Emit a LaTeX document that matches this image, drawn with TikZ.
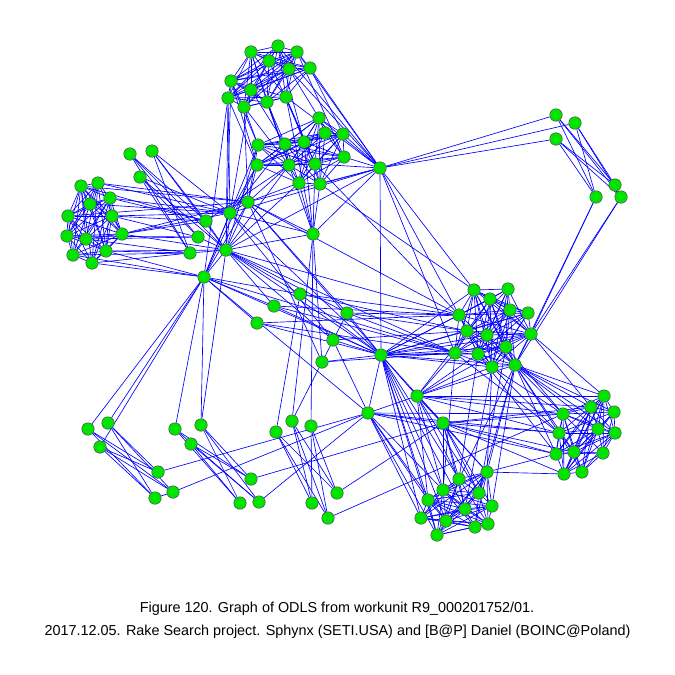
\documentclass[tikz,border=0pt]{standalone}
\usepackage{fontspec}
\setmainfont{Liberation Sans}
\pgfdeclarelayer{bg}
\pgfsetlayers{bg,main}
\definecolor{vg}{RGB}{0,228,0}
\definecolor{vb}{RGB}{0,0,255}
\tikzset{
  vtx/.style={circle,fill=vg,draw=black!70,line width=0.5pt,minimum size=12.5pt,inner sep=0pt},
  edge/.style={draw=vb,line width=0.65pt},
  captxt/.style={font=\fontsize{14.4}{17}\selectfont,inner sep=0pt}
}
\newcommand\myclique[2]{%
  \pgfmathtruncatemacro\nm{#2-1}%
  \foreach \i in {1,...,\nm}{%
    \pgfmathtruncatemacro\ip{\i+1}%
    \foreach \j in {\ip,...,#2}{%
      \pgfmathtruncatemacro\r{mod(3*\i+5*\j+\i*\j,4)}%
      \ifnum\r>0 \draw[edge] (#1\i)--(#1\j);\fi}}}
\begin{document}
\begin{tikzpicture}[x=1pt,y=-1pt]
\useasboundingbox (0,0) rectangle (675,675);
\foreach \n/\x/\y in {
 a1/251/52, a2/278/46, a3/297/52, a4/269/61, a5/289/69, a6/310/68, a7/231/81, a8/251/90, a9/228/98, a10/244/107, a11/267/102, a12/286/97,
 b1/319/118, b2/325/133, b3/343/134, b4/258/145, b5/285/144, b6/304/142, b7/344/157, b8/257/165, b9/289/165, b10/315/164, b11/299/183, b12/320/184,
 h1/380/168,
 g1/248/202, g2/230/213, g3/206/221, g4/198/237, g5/226/250, g6/190/253, g7/204/277, g8/313/234,
 c1/81/186, c2/98/183, c3/110/198, c4/90/204, c5/68/216, c6/112/216, c7/67/236, c8/86/239, c9/122/234, c10/73/255, c11/106/251, c12/92/263,
 p1/130/154, p2/152/151, p3/140/177,
 r1/556/115, r2/575/123, r3/556/139, r4/615/185, r5/596/197, r6/621/197,
 m1/300/294, m2/274/306, m3/347/313, m4/257/323, m5/333/340, m6/322/362, m7/381/355, m8/417/396, m9/368/413, m10/443/423,
 d1/474/290, d2/508/289, d3/490/299, d4/459/315, d5/510/310, d6/528/313, d7/467/331, d8/487/335, d9/531/334, d10/455/353, d11/478/354, d12/506/347, d13/492/367, d14/515/365,
 e1/604/396, e2/591/407, e3/563/414, e4/614/412, e5/598/429, e6/559/433, e7/615/433, e8/556/454, e9/574/452, e10/603/453, e11/564/474, e12/582/472,
 f1/487/472, f2/459/479, f3/443/490, f4/479/493, f5/428/500, f6/492/506, f7/465/509, f8/421/518, f9/446/521, f10/475/527, f11/488/524, f12/437/535,
 q1/88/429, q2/108/423, q3/100/447, q4/158/472, q5/173/492, q6/155/498,
 s1/175/429, s2/201/425, s3/191/444, s4/251/479, s5/240/503, s6/259/502,
 t1/276/432, t2/292/421, t3/311/426, t4/337/493, t5/312/503, t6/328/518}
 \node[vtx] (\n) at (\x,\y) {};
\begin{pgfonlayer}{bg}
\myclique{a}{12}
\myclique{b}{12}
\myclique{c}{12}
\myclique{d}{14}
\myclique{e}{12}
\myclique{f}{12}
\foreach \u/\v in {
 a7/b4, a7/b8, a9/b8, a10/b4, a11/b5, a11/b9, a12/b6, a8/b5, a5/b1, a6/b3, a4/b10, a1/b9, a2/b6, a3/b7, a12/b10, a10/b9,
 a3/h1, a6/h1, a5/h1, a2/h1, a12/h1,
 a7/g5, a9/g5, a9/g7, a10/g1, a8/g2, a11/g8, a12/g8, a9/g2,
 b1/h1, b3/h1, b7/h1, b10/h1, b12/h1, b4/g1, b8/g1, b8/g2, b9/g1, b11/g1, b12/g8, b10/g8, b9/g5, b11/g5, b4/g5, b5/g2, b6/g8, b11/g8, b8/g7, b4/g7, b9/g3, b12/d1, b10/d4,
 h1/r1, h1/r2, h1/r3, h1/g8, h1/g1, h1/g5, h1/d1, h1/d4, h1/m7, h1/g2, h1/d10,
 r1/r4, r1/r5, r1/r6, r2/r4, r2/r5, r2/r6, r3/r4, r3/r5, r3/r6, r5/d9, r5/d14, r6/d9, r6/d14,
 c1/g1, c2/g2, c2/g1, c3/g2, c3/g3, c1/g3, c4/g2, c5/g1, c6/g2, c6/g3, c9/g3, c9/g1, c9/g5, c9/g2, c7/g4, c8/g6, c10/g6, c11/g6, c11/g5, c12/g7, c12/g6, c10/g7, c11/g7, c8/g4, c6/g4,
 p1/g3, p1/g4, p1/g6, p1/g5, p2/g3, p2/g2, p2/g6, p2/g5, p3/g4, p3/g6, p3/g5, p3/g2,
 g1/g2, g2/g5, g1/g5, g5/g7, g3/g5, g1/g8, g2/g8, g5/g8, g6/g5, g4/g5, g1/g7, g2/g7,
 g7/q1, g7/q2, g7/q3, g7/s1, g7/s2, g5/s2, t1/m1, t2/m3, t2/g8, t3/g8,
 q1/q4, q1/q5, q1/q6, q2/q4, q2/q5, q2/q6, q3/q4, q3/q5, q3/q6, q5/q6, q4/m9, q5/m9,
 s1/s4, s1/s5, s1/s6, s2/s4, s2/s5, s2/s6, s3/s4, s3/s5, s3/s6, s4/m10, s6/m9,
 t1/t4, t1/t5, t1/t6, t2/t4, t2/t5, t2/t6, t3/t4, t3/t5, t3/t6, t4/m10, t6/e3,
 m1/g7, m1/g5, m1/m7, m1/d4, m2/g5, m2/g7, m2/m7, m2/d10, m3/g5, m3/m7, m3/g1, m4/g7, m4/m7, m4/d4, m5/g5, m5/m7, m5/g2, m6/m7, m6/g8, m6/g1, m3/d7, m5/m9,
 m4/d10, m2/d4, m1/d7, m3/d4, m3/d10, g7/d10, g5/d4, m6/d10, m5/d7,
 g5/m7, g7/m7, g2/m7, g1/d4, g5/d10, g7/m9, g1/m7,
 d14/e1, d14/e2, d14/e3, d14/e4, d14/e5, d14/e6, d14/e7, d13/e3, d13/e6, d9/e1, d9/e2, d12/e3, d11/e8, d10/e6, d14/e8, d14/e9,
 d14/f1, d14/f2, d14/f4, d13/f1, d10/f3, d11/f2, d12/f4, d14/f6, d13/f7,
 m7/f2, m7/f3, m7/f5, m7/f8, m7/f9, m7/f7, m7/f12,
 m8/f2, m8/f3, m8/f5, m8/f4, m8/f1,
 m9/f5, m9/f8, m9/f3, m9/f9, m9/f12,
 m10/f2, m10/f3, m10/f4, m10/f1, m10/f6, m10/f7,
 m10/e3, m10/e6, m10/e8, m10/e9, m10/e11, m10/e2,
 m8/e3, m8/e6, m8/e2, m8/e1, m9/e3, m9/e6, m9/e8,
 m7/d1, m7/d3, m7/d4, m7/d7, m7/d8, m7/d10, m7/d11, m7/d12, m7/d13, m7/d14, m7/d9, m7/d6,
 m8/d10, m8/d11, m8/d13, m8/d14, m8/d7, m8/d12,
 m7/m8, m7/m9, m7/m10, m8/m10, m8/m9, m9/m10, f1/e11, f1/e8}
 \draw[edge] (\u)--(\v);
\end{pgfonlayer}
\node[captxt] (cap1) at (337,609) {Figure 120. Graph of ODLS from workunit R9\_000201752/01.};
\node[captxt] (cap2) at (337.5,632) {2017.12.05. Rake Search project. Sphynx (SETI.USA) and [B@P] Daniel (BOINC@Poland)};
\end{tikzpicture}
\end{document}
